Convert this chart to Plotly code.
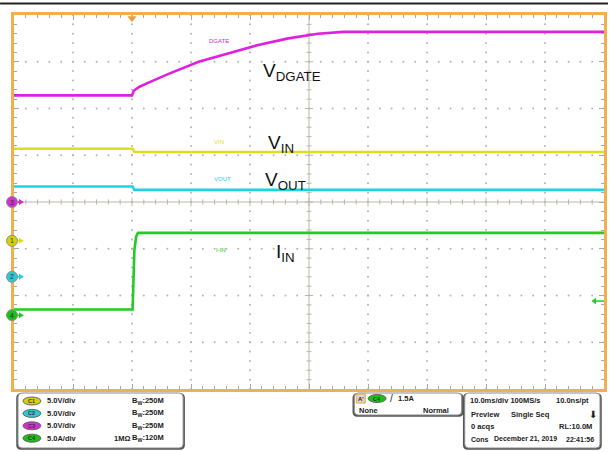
import plotly.graph_objects as go

# scope settings
ch_scale = {1: 5.0, 2: 5.0, 3: 5.0, 4: 5.0}      # V/div, V/div, V/div, A/div
ch_pos = {1: -0.83, 2: -1.6, 3: 0.0, 4: -2.42}   # ground marker, divisions
ch_color = {1: "#dede1e", 2: "#1ed2e6", 3: "#e020e0", 4: "#22cc22"}
badge_color = {1: "#d6d200", 2: "#30c8d0", 3: "#d030d0", 4: "#18c018"}
trig_level = 1.5  # A on C4

# captured waveforms (time in ms, trigger at 0)
t_dgate = [-20, 0, 0.3, 1.2, 2.9, 6.2, 11.3, 16.4, 21.4, 26.5, 31.5, 35.8, 80]
v_dgate = [11.4, 11.4, 11.9, 12.3, 12.8, 13.7, 15.0, 15.9, 16.8, 17.5, 18.0, 18.2, 18.2]

t_vin = [-20, 0.1, 0.4, 80]
v_vin = [9.85, 9.85, 9.5, 9.5]

t_vout = [-20, 0.1, 0.4, 80]
v_vout = [9.65, 9.65, 9.3, 9.3]

t_iin = [-20, 0.1, 0.4, 0.7, 1.0, 80]
i_iin = [0.6, 0.6, 6.9, 8.4, 8.8, 8.8]

X0, X1 = -20, 80
MS_DIV = 10


def to_div(ch, vals):
    return [v / ch_scale[ch] + ch_pos[ch] for v in vals]


# plot area in pixels
PL, PT, PW, PH = 14, 15, 593, 374


def xp(x):
    return (x - PL) / PW


def yp(y):
    return (PT + PH - y) / PH


fig = go.Figure()

# graticule dots
gx, gy = [], []
for k in range(1, 10):
    if k == 5:
        continue
    for m in range(0, 41):
        gx.append(X0 + k * MS_DIV)
        gy.append(-4 + m * 0.2)
for j in range(-3, 4):
    if j == 0:
        continue
    for m in range(0, 51):
        gx.append(X0 + m * 2)
        gy.append(j)
fig.add_trace(go.Scatter(x=gx, y=gy, mode="markers", hoverinfo="skip",
                         marker=dict(size=2, color="#b4b4b4"), showlegend=False))

# center cross with ticks
cx, cy = [X0, X1, None, 30, 30], [0, 0, None, -4, 4]
for m in range(1, 50):
    t = X0 + m * 2
    h = 0.09 if m % 5 == 0 else 0.055
    cx += [None, t, t]
    cy += [None, -h, h]
for m in range(1, 40):
    v = -4 + m * 0.2
    w = 0.7 if m % 5 == 0 else 0.42
    cx += [None, 30 - w, 30 + w]
    cy += [None, v, v]
fig.add_trace(go.Scatter(x=cx, y=cy, mode="lines", hoverinfo="skip",
                         line=dict(color="#bdb5a8", width=1), showlegend=False))

# waveforms
waves = [(3, t_dgate, v_dgate), (1, t_vin, v_vin), (2, t_vout, v_vout), (4, t_iin, i_iin)]
for ch, t, v in waves:
    fig.add_trace(go.Scatter(x=t, y=to_div(ch, v), mode="lines", hoverinfo="skip",
                             line=dict(color=ch_color[ch], width=2.6), showlegend=False))

# trigger position and level markers
fig.add_trace(go.Scatter(x=[0], y=[3.93], mode="markers", cliponaxis=False,
                         marker=dict(symbol="triangle-down", size=8, color="#f0a030"),
                         showlegend=False, hoverinfo="skip"))
tl = to_div(4, [trig_level])[0]
fig.add_trace(go.Scatter(x=[78.6, 80], y=[tl, tl], mode="lines", cliponaxis=False,
                         line=dict(color=ch_color[4], width=1.5), showlegend=False, hoverinfo="skip"))
fig.add_trace(go.Scatter(x=[78.4], y=[tl], mode="markers", cliponaxis=False,
                         marker=dict(symbol="triangle-left", size=6, color=ch_color[4]),
                         showlegend=False, hoverinfo="skip"))

axis_common = dict(showgrid=False, zeroline=False, showticklabels=False,
                   showline=True, linecolor="#f2b04c", linewidth=3, mirror="ticks",
                   ticks="inside", tickcolor="#a8a8a8", ticklen=5, tickwidth=1)
fig.update_xaxes(range=[X0, X1], tick0=X0, dtick=MS_DIV,
                 minor=dict(dtick=2, ticks="inside", ticklen=3, tickcolor="#a8a8a8", showgrid=False),
                 **axis_common)
fig.update_yaxes(range=[-4, 4], tick0=-4, dtick=1,
                 minor=dict(dtick=0.2, ticks="inside", ticklen=3, tickcolor="#a8a8a8", showgrid=False),
                 **axis_common)

shapes = []
annotations = []
FONT = "Liberation Sans"


def txt(s, x, y, size=7.5, color="#222222", anchor="left", bold=True):
    annotations.append(dict(text=f"<b>{s}</b>" if bold else s, x=xp(x), y=yp(y), xref="paper", yref="paper",
                            showarrow=False, xanchor=anchor, yanchor="middle",
                            font=dict(family=FONT, size=size, color=color)))


# top rule
shapes.append(dict(type="line", xref="paper", yref="paper", x0=xp(0), x1=xp(611),
                   y0=yp(3.5), y1=yp(3.5), line=dict(color="#222222", width=2)))

# channel ground markers on the left edge
for ch in [3, 1, 2, 4]:
    y = ch_pos[ch]
    shapes.append(dict(type="line", xref="paper", yref="y", x0=xp(12), x1=xp(20), y0=y, y1=y,
                       line=dict(color=ch_color[ch], width=1.5)))
    shapes.append(dict(type="path", xref="paper", yref="y", ysizemode="pixel", yanchor=y,
                       path=f"M {xp(19)} -3 L {xp(24)} 0 L {xp(19)} 3 Z",
                       fillcolor=ch_color[ch], line=dict(width=0)))
    shapes.append(dict(type="circle", xref="paper", yref="y", ysizemode="pixel", yanchor=y,
                       x0=xp(6.5), x1=xp(17.5), y0=-5.5, y1=5.5,
                       fillcolor=badge_color[ch], line=dict(color="#909090", width=1)))
    annotations.append(dict(text=str(ch), x=xp(12), y=y, xref="paper", yref="y", showarrow=False,
                            xanchor="center", yanchor="middle",
                            font=dict(family=FONT, size=7, color="#333333")))


def rrect(x0, y0, x1, y1, r=4):
    pts = (f"M {xp(x0 + r)} {yp(y0)} L {xp(x1 - r)} {yp(y0)} Q {xp(x1)} {yp(y0)} {xp(x1)} {yp(y0 + r)} "
           f"L {xp(x1)} {yp(y1 - r)} Q {xp(x1)} {yp(y1)} {xp(x1 - r)} {yp(y1)} "
           f"L {xp(x0 + r)} {yp(y1)} Q {xp(x0)} {yp(y1)} {xp(x0)} {yp(y1 - r)} "
           f"L {xp(x0)} {yp(y0 + r)} Q {xp(x0)} {yp(y0)} {xp(x0 + r)} {yp(y0)} Z")
    return pts


for bx0, by0, bx1, by1 in [(18, 393, 184, 448), (356, 393, 464, 415), (467, 393, 603, 448)]:
    shapes.append(dict(type="path", xref="paper", yref="paper", path=rrect(bx0 - 1, by0 + 1, bx1 + 1, by1 + 1),
                       line=dict(color="#555555", width=1.5), fillcolor="#555555"))
    shapes.append(dict(type="path", xref="paper", yref="paper", path=rrect(bx0, by0, bx1, by1),
                       line=dict(color="#8a8a8a", width=1), fillcolor="#ffffff"))


def badge(ch, x0, y, w=18, h=8):
    shapes.append(dict(type="circle", xref="paper", yref="paper", x0=xp(x0), x1=xp(x0 + w),
                       y0=yp(y + h / 2), y1=yp(y - h / 2), fillcolor=badge_color[ch],
                       line=dict(color="#666666", width=1)))
    txt(f"C{ch}", x0 + w / 2, y, size=5.5, color="#333333", anchor="center")


# channel settings box
rows = [(1, "5.0V/div", "", "250M"), (2, "5.0V/div", "", "250M"),
        (3, "5.0V/div", "", "250M"), (4, "5.0A/div", "1MΩ", "120M")]
for i, (ch, sc, term, bw) in enumerate(rows):
    y = 401 + i * 12.4
    badge(ch, 23, y)
    txt(sc, 45, y)
    if term:
        txt(term, 112, y)
    txt(f"B<sub>W</sub>:{bw}", 131, y)

# trigger box
shapes.append(dict(type="rect", xref="paper", yref="paper", x0=xp(358), x1=xp(367), y0=yp(403), y1=yp(394),
                   fillcolor="#d8d8d8", line=dict(color="#f0a030", width=1)))
txt("A'", 362.5, 398.5, size=6, anchor="center")
badge(4, 370, 398.5)
txt("/", 390, 398.5, size=10, bold=False)
txt("1.5A", 398, 398.5)
txt("None", 359, 410)
txt("Normal", 453, 410, anchor="right")

# timebase box
txt("10.0ms/div 100MS/s", 470, 401)
txt("10.0ns/pt", 594, 401, anchor="right")
txt("Preview", 471, 414)
txt("Single Seq", 512, 414)
txt("⬇", 596, 414, size=10, anchor="center", bold=False)
txt("0 acqs", 471, 426.5)
txt("RL:10.0M", 597, 426.5, anchor="right")
txt("Cons", 471, 439, size=7)
txt("December 21, 2019", 494, 439, size=7)
txt("22:41:56", 599, 439, size=7, anchor="right")

# on-screen trace labels
for s, x, y, c in [("DGATE", 208, 41, 3), ("VIN", 213, 142, 1), ("VOUT", 213, 179, 2), ("I-IN", 215, 250, 4)]:
    txt(s, x, y, size=6, color=ch_color[c], bold=False)

for s, x, y in [("V<sub>DGATE</sub>", 262, 72), ("V<sub>IN</sub>", 267, 144),
                ("V<sub>OUT</sub>", 264, 181), ("I<sub>IN</sub>", 275, 253)]:
    txt(s, x, y, size=19, color="#111111", bold=False)

fig.update_layout(width=611, height=452, margin=dict(l=PL, r=611 - PL - PW, t=PT, b=452 - PT - PH),
                  plot_bgcolor="#ffffff", paper_bgcolor="#ffffff",
                  shapes=shapes, annotations=annotations, showlegend=False)

fig.write_html("out.html", config={"displayModeBar": False},
               post_script="document.body.style.margin='0';document.body.style.overflow='hidden';")
